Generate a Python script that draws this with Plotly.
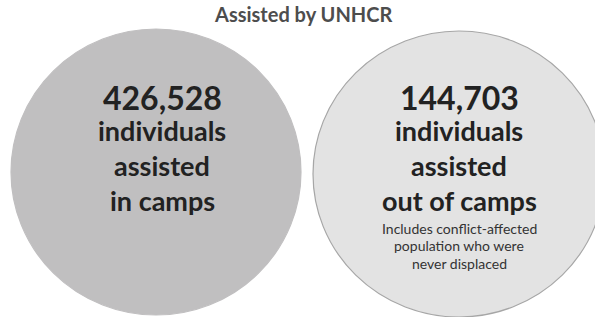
import plotly.graph_objects as go

title = "Assisted by UNHCR"
groups = ["in camps", "out of camps"]
values = [426528, 144703]
main_lines = [["individuals", "assisted", "in camps"],
              ["individuals", "assisted", "out of camps"]]
notes = [[], ["Includes conflict-affected", "population who were", "never displaced"]]

fills = ["#c0bfc0", "#e3e3e3"]
borders = ["#c0bfc0", "#a6a6a6"]
centers = [(156, 172), (459, 174)]
radii = [(145, 143), (146, 143)]

W, H = 595, 317
fig = go.Figure()
fig.add_trace(go.Scatter(x=[0, W], y=[0, H], mode="markers", marker=dict(opacity=0), hoverinfo="skip", showlegend=False))

FONT = "Lato"
for i in range(len(groups)):
    cx, cy = centers[i]
    rx, ry = radii[i]
    fig.add_shape(type="circle", xref="x", yref="y", x0=cx - rx, x1=cx + rx, y0=cy - ry, y1=cy + ry,
                  fillcolor=fills[i], line=dict(color=borders[i], width=1.2), layer="below")
    tx = cx + (6 if i == 0 else 0)
    fig.add_annotation(x=tx, y=97, text=f"<b>{values[i]:,}</b>", showarrow=False,
                       font=dict(family=FONT, size=32, color="#222222"), xanchor="center", yanchor="middle")
    for j, line in enumerate(main_lines[i]):
        fig.add_annotation(x=tx, y=130 + 35 * j, text=f"<b>{line}</b>", showarrow=False,
                           font=dict(family=FONT, size=27, color="#222222"), xanchor="center", yanchor="middle")
    for j, line in enumerate(notes[i]):
        fig.add_annotation(x=tx, y=228 + 17.5 * j, text=line, showarrow=False,
                           font=dict(family=FONT, size=14, color="#333333"), xanchor="center", yanchor="middle")

fig.add_annotation(x=303, y=14, text=f"<b>{title}</b>", showarrow=False,
                   font=dict(family=FONT, size=20, color="#4d4d4d"), xanchor="center", yanchor="middle")

fig.update_layout(width=W, height=H, margin=dict(l=0, r=0, t=0, b=0),
                  paper_bgcolor="white", plot_bgcolor="white", showlegend=False)
fig.update_xaxes(range=[0, W], visible=False, fixedrange=True)
fig.update_yaxes(range=[H, 0], visible=False, fixedrange=True)
fig.write_html("out.html", config={"displayModeBar": False},
               post_script="document.body.style.margin='0';document.body.style.overflow='hidden';")
